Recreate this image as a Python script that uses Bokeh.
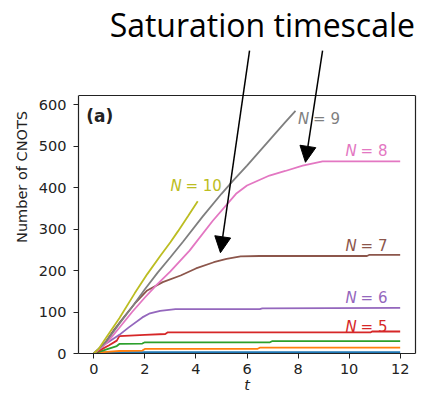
from bokeh.plotting import figure
from bokeh.models import Range1d, FixedTicker, Label, Arrow, NormalHead, LinearAxis, Span
from bokeh.embed import file_html
from bokeh.resources import INLINE

# ---- data ----
t_n2 = [0, 0.3, 12]
c_n2 = [0, 3, 3]

t_n3 = [0, 0.5, 1.0, 1.9, 2.0, 6.4, 6.5, 12]
c_n3 = [0, 4, 6, 7, 11, 11, 14, 14]

t_n4 = [0, 0.5, 0.9, 1.0, 1.9, 2.0, 6.9, 7.0, 12]
c_n4 = [0, 10, 18, 23, 24, 27, 27, 30, 30]

t_n5 = [0, 0.3, 0.6, 0.9, 1.0, 2.0, 2.8, 2.9, 10.85, 10.9, 12]
c_n5 = [0, 10, 20, 31, 42, 45, 47, 51, 51, 53, 53]

t_n6 = [0, 0.5, 1.0, 1.37, 1.9, 2.2, 2.6, 3.2, 4.0, 6.5, 6.6, 12]
c_n6 = [0, 25, 45, 63, 87, 97, 103, 107, 107, 107, 109, 110]

t_n7 = [0, 0.4, 0.8, 1.18, 1.6, 2.09, 2.7, 3.4, 4.0, 4.7, 5.2, 5.75, 6.5, 10.7, 10.8, 12]
c_n7 = [0, 22, 58, 88, 120, 152, 172, 188, 205, 220, 228, 234, 235, 235, 238, 238]

t_n8 = [0, 0.5, 1.0, 1.5, 2.0, 2.5, 3.0, 3.75, 4.66, 5.57, 6.0, 6.88, 7.5, 8.18, 8.96, 12]
c_n8 = [0, 25, 62, 100, 135, 168, 198, 248, 320, 385, 405, 429, 440, 453, 463, 463]

t_n9 = [0, 0.5, 1.0, 1.5, 2.0, 2.5, 3.0, 3.5, 4.26, 5.0, 5.43, 6.0, 6.5, 7.0, 7.5, 7.9]
c_n9 = [0, 30, 72, 112, 155, 195, 232, 270, 330, 385, 415, 453, 488, 523, 558, 585]

t_n10 = [0, 0.2, 0.5, 1.0, 1.6, 2.1, 2.6, 3.0, 3.3, 3.7, 4.07]
c_n10 = [0, 12, 40, 85, 145, 192, 235, 268, 295, 332, 367]

series = [
    (t_n2, c_n2, "#1f77b4"),
    (t_n3, c_n3, "#ff7f0e"),
    (t_n4, c_n4, "#2ca02c"),
    (t_n5, c_n5, "#d62728"),
    (t_n6, c_n6, "#9467bd"),
    (t_n7, c_n7, "#8c564b"),
    (t_n8, c_n8, "#e377c2"),
    (t_n9, c_n9, "#7f7f7f"),
    (t_n10, c_n10, "#bcbd22"),
]

x_ticks = [0, 2, 4, 6, 8, 10, 12]
y_ticks = [0, 100, 200, 300, 400, 500, 600]
y_top = 622  # top of the boxed axes area

AX = "#222222"
TICK_FONT = "14.5px"

# frame reaches the top of the canvas so that title + arrows can be drawn above the box
p = figure(width=423, height=396, x_range=Range1d(-0.6, 12.6), y_range=Range1d(0, 851),
           output_backend="svg", toolbar_location=None,
           min_border_left=78, min_border_right=8, min_border_top=0, min_border_bottom=43)
p.background_fill_color = "white"
p.border_fill_color = "white"
p.outline_line_color = None
p.xgrid.visible = False
p.ygrid.visible = False

right_axis = LinearAxis(bounds=(0, y_top), ticker=FixedTicker(ticks=[]),
                        major_tick_line_color=None, minor_tick_line_color=None,
                        axis_line_color=AX, axis_line_width=1.2)
p.add_layout(right_axis, "right")

for ax in (p.xaxis[0], p.yaxis[0]):
    ax.axis_line_color = AX
    ax.axis_line_width = 1.2
    ax.major_tick_line_color = AX
    ax.minor_tick_line_color = None
    ax.major_tick_out = 5
    ax.major_tick_in = 0
    ax.major_label_text_font = "DejaVu Sans"
    ax.major_label_text_font_size = TICK_FONT
    ax.major_label_text_color = AX
    ax.axis_label_text_font = "DejaVu Sans"
    ax.axis_label_text_font_size = TICK_FONT
    ax.axis_label_text_font_style = "normal"
    ax.axis_label_text_color = AX

p.xaxis[0].major_label_standoff = 5
p.yaxis[0].major_label_standoff = 7
p.yaxis[0].bounds = (0, y_top)
p.xaxis.ticker = FixedTicker(ticks=x_ticks)
p.yaxis[0].ticker = FixedTicker(ticks=y_ticks)
p.xaxis.axis_label = "t"
p.xaxis.axis_label_text_font_style = "italic"
p.xaxis.axis_label_standoff = 0
p.yaxis[0].axis_label = "Number of CNOTS"
p.yaxis[0].axis_label_standoff = 6

# top spine of the box
p.add_layout(Span(location=y_top, dimension="width", line_color=AX, line_width=1.2))

for tx, cy, col in series:
    p.line(tx, cy, line_color=col, line_width=1.8)

lab_font = "DejaVu Sans"
labels = [
    ("10", 3.0, 403, "#bcbd22"),
    ("9", 8.0, 565, "#7f7f7f"),
    ("8", 9.86, 489, "#e377c2"),
    ("7", 9.86, 260, "#8c564b"),
    ("6", 9.86, 133, "#9467bd"),
    ("5", 9.86, 63, "#d62728"),
]
for num, lx, ly, col in labels:
    p.add_layout(Label(x=lx, y=ly, text="N", text_align="left", text_baseline="alphabetic",
                       text_color=col, text_font=lab_font, text_font_style="italic",
                       text_font_size="15px"))
    p.add_layout(Label(x=lx, y=ly, x_offset=15, text="= " + num, text_align="left",
                       text_baseline="alphabetic", text_color=col, text_font=lab_font,
                       text_font_size="15px"))

p.add_layout(Label(x=-0.3, y=572, text="(a)", text_font=lab_font, text_font_style="bold",
                   text_font_size="17px", text_color=AX, text_baseline="alphabetic"))

# annotation: title and arrows above the box
p.add_layout(Label(x=6.6, y=793, text="Saturation timescale", text_align="center",
                   text_baseline="alphabetic", text_font="Open Sans", text_font_size="32px",
                   text_color="black"))
for xs, ys, xe, ye in [(6.1, 730, 4.96, 243), (8.96, 730, 8.29, 461)]:
    p.add_layout(Arrow(x_start=xs, y_start=ys, x_end=xe, y_end=ye, line_color="black",
                       line_width=1.5,
                       end=NormalHead(size=16, fill_color="black", line_color="black")))

open("out.html", "w").write(file_html(p, INLINE))
